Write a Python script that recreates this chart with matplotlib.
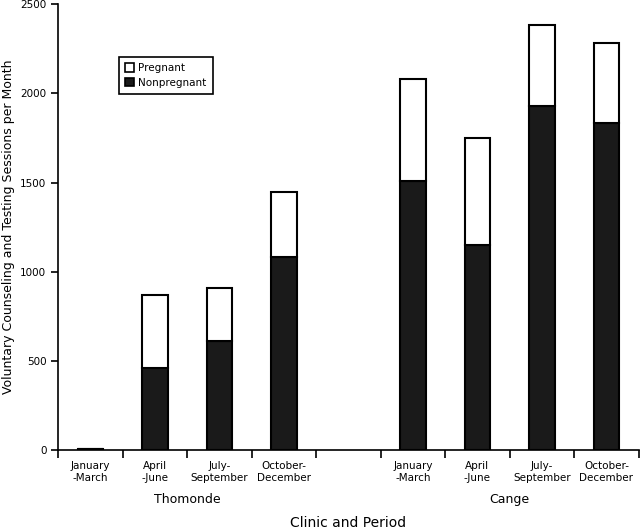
import numpy as np
import matplotlib.pyplot as plt
from matplotlib.patches import Patch

periods = ["January\n-March", "April\n-June", "July-\nSeptember", "October-\nDecember"]
clinics = ["Thomonde", "Cange"]
nonpregnant = [4, 460, 612, 1083, 1510, 1150, 1930, 1835]
pregnant = [2, 410, 297, 365, 572, 600, 455, 445]

plt.rcParams['font.family'] = ['DejaVu Sans']

fig = plt.figure(figsize=(6.4, 5.3), dpi=100)
ax = fig.add_axes([0.091, 0.151, 0.907, 0.841])

# 9 slots: 4 Thomonde, 1 empty, 4 Cange
x = np.array([0, 1, 2, 3, 5, 6, 7, 8]) + 0.5
w = 0.4
ax.bar(x, nonpregnant, w, color='#1a1a1a', edgecolor='black', linewidth=1.5)
ax.bar(x, pregnant, w, bottom=nonpregnant, color='white', edgecolor='black', linewidth=1.5)

ax.set_xlim(0, 9)
ax.set_ylim(0, 2500)
ax.set_yticks([0, 500, 1000, 1500, 2000, 2500])
ax.tick_params(axis='y', direction='out', length=5, width=1.2, labelsize=7.5)
ax.set_xticks(np.arange(0, 10))
ax.set_xticklabels([])
ax.tick_params(axis='x', direction='out', length=6, width=1.2)
for s in ['top', 'right']:
    ax.spines[s].set_visible(False)
for s in ['left', 'bottom']:
    ax.spines[s].set_linewidth(1.2)

labels = periods + periods
for xi, lab in zip(x, labels):
    ax.text(xi, -60, lab, ha='center', va='top', fontsize=7.5, linespacing=1.3)
ax.text(2.0, -240, clinics[0], ha='center', va='top', fontsize=9)
ax.text(7.0, -240, clinics[1], ha='center', va='top', fontsize=9)
ax.text(4.5, -370, "Clinic and Period", ha='center', va='top', fontsize=10)

ax.set_ylabel("Voluntary Counseling and Testing Sessions per Month", fontsize=9, labelpad=4)

handles = [Patch(facecolor='white', edgecolor='black', linewidth=1.2, label='Pregnant'),
           Patch(facecolor='#1a1a1a', edgecolor='black', linewidth=1.2, label='Nonpregnant')]
leg = ax.legend(handles=handles, loc='upper left', bbox_to_anchor=(0.095, 0.893),
                fontsize=7.5, fancybox=False, edgecolor='black', framealpha=1,
                handlelength=0.9, handleheight=0.9, handletextpad=0.4,
                borderpad=0.6, labelspacing=0.4)
leg.get_frame().set_linewidth(1.2)

fig.savefig("out.png", dpi=100)
